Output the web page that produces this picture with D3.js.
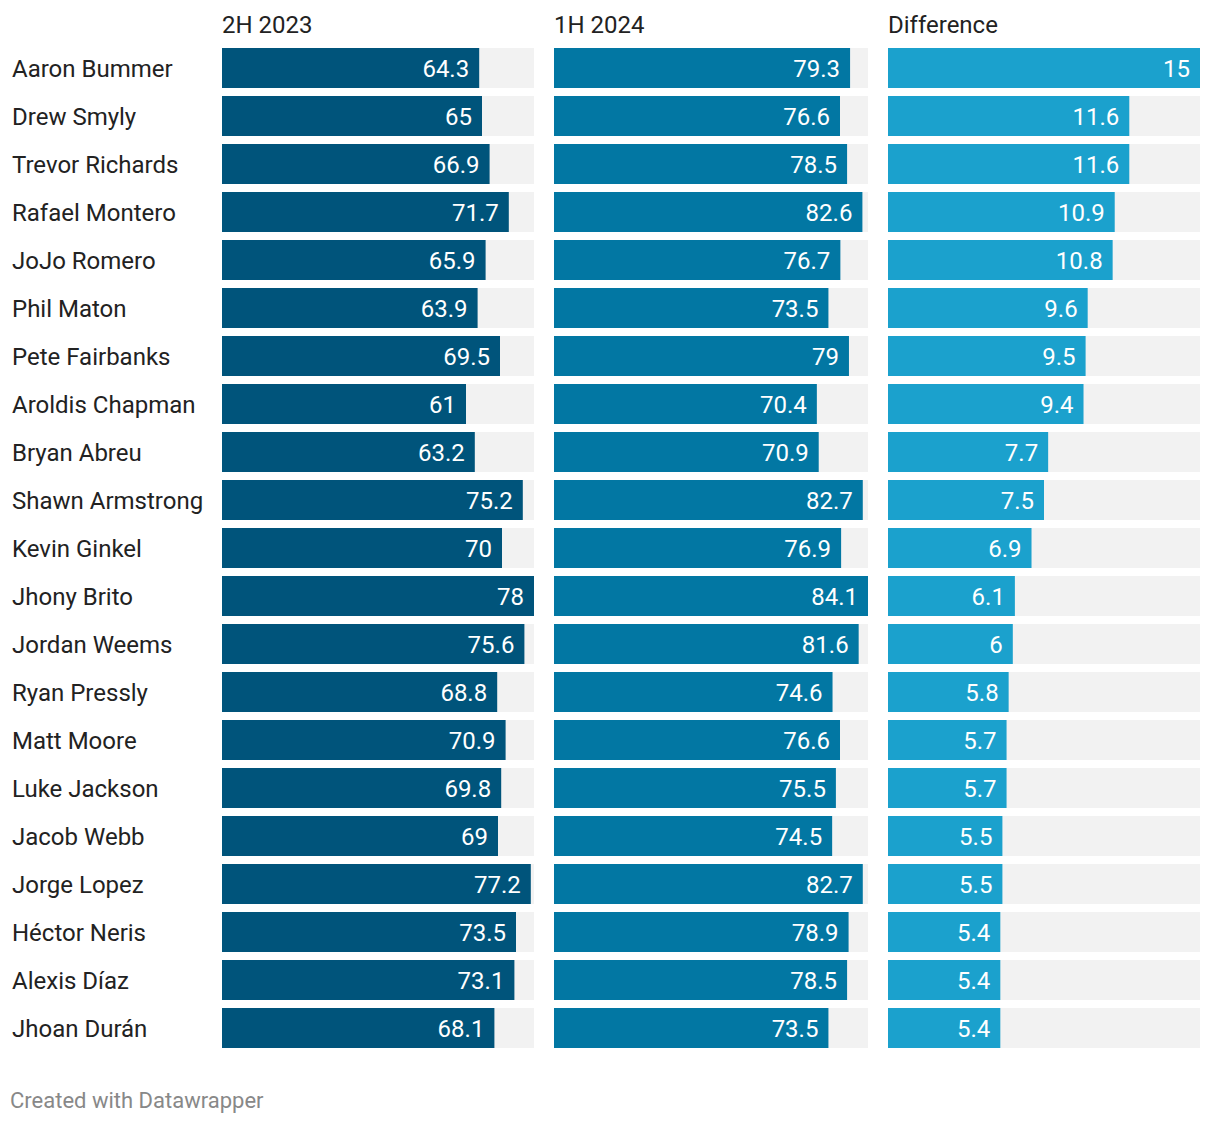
<!DOCTYPE html>
<html><head><meta charset="utf-8">
<script src="https://cdn.jsdelivr.net/npm/d3@7"></script>
<style>body{margin:0;background:#fff;font-family:Roboto,sans-serif;}</style>
</head><body><svg id="c" width="1220" height="1124"></svg>
<script>
const names = ["Aaron Bummer","Drew Smyly","Trevor Richards","Rafael Montero","JoJo Romero","Phil Maton","Pete Fairbanks","Aroldis Chapman","Bryan Abreu","Shawn Armstrong","Kevin Ginkel","Jhony Brito","Jordan Weems","Ryan Pressly","Matt Moore","Luke Jackson","Jacob Webb","Jorge Lopez","Héctor Neris","Alexis Díaz","Jhoan Durán"];
const h2023 = [64.3,65,66.9,71.7,65.9,63.9,69.5,61,63.2,75.2,70,78,75.6,68.8,70.9,69.8,69,77.2,73.5,73.1,68.1];
const h2024 = [79.3,76.6,78.5,82.6,76.7,73.5,79,70.4,70.9,82.7,76.9,84.1,81.6,74.6,76.6,75.5,74.5,82.7,78.9,78.5,73.5];
const diff = [15,11.6,11.6,10.9,10.8,9.6,9.5,9.4,7.7,7.5,6.9,6.1,6,5.8,5.7,5.7,5.5,5.5,5.4,5.4,5.4];
const headers = ["2H 2023","1H 2024","Difference"];

const svg = d3.select("#c");
const y = d3.scaleBand().domain(names).range([44,1052]).paddingInner(8/48).paddingOuter(1/12);
const cols = [
  {vals:h2023, x0:222, x1:534, color:"#00547b"},
  {vals:h2024, x0:554, x1:868, color:"#0277a3"},
  {vals:diff, x0:888, x1:1200, color:"#1ba1cd"}
];
svg.selectAll("text.name").data(names).join("text")
  .attr("x",12).attr("y",d=>y(d)+y.bandwidth()/2).attr("dy","0.36em")
  .attr("font-size",24).attr("fill","#222").text(d=>d);
cols.forEach((c,i)=>{
  const x = d3.scaleLinear().domain([0,d3.max(c.vals)]).range([c.x0,c.x1]);
  const g = svg.append("g");
  g.append("text").attr("x",c.x0).attr("y",24).attr("dy","0.36em").attr("font-size",24).attr("fill","#222").text(headers[i]);
  g.selectAll("rect.bg").data(names).join("rect").attr("x",c.x0).attr("y",d=>y(d)).attr("width",c.x1-c.x0).attr("height",y.bandwidth()).attr("fill","#f2f2f2");
  g.selectAll("rect.v").data(c.vals).join("rect").attr("x",c.x0).attr("y",(d,j)=>y(names[j])).attr("width",d=>x(d)-c.x0).attr("height",y.bandwidth()).attr("fill",c.color);
  g.selectAll("text.v").data(c.vals).join("text").attr("x",d=>x(d)-10).attr("y",(d,j)=>y(names[j])+y.bandwidth()/2).attr("dy","0.36em")
    .attr("text-anchor","end").attr("font-size",24).attr("fill","#fff").text(d=>d);
});
svg.append("text").attr("x",10).attr("y",1100).attr("dy","0.36em").attr("font-size",22).attr("fill","#888").text("Created with Datawrapper");
</script></body></html>
